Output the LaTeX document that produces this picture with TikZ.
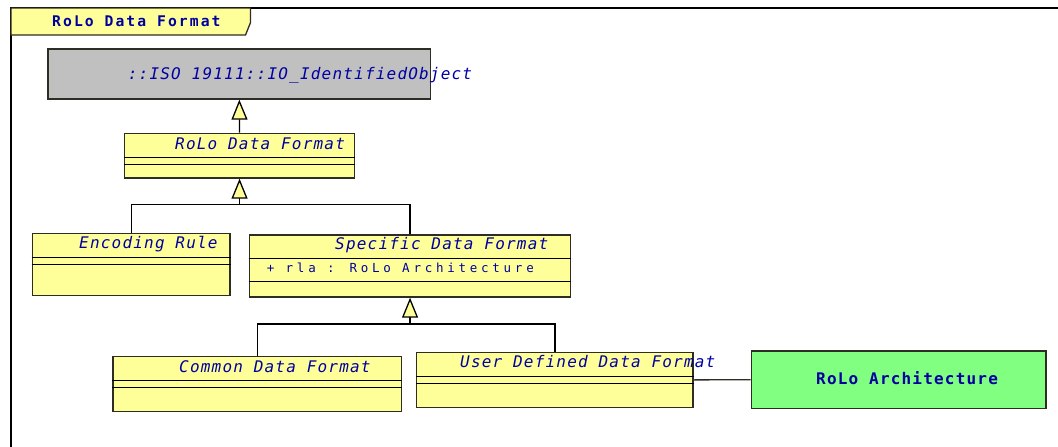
\documentclass[tikz,border=0pt]{standalone}
\usepackage{fontspec}
\usetikzlibrary{arrows.meta}
\newfontfamily\clsfont[LetterSpace=7.5]{DejaVu Sans Mono}
\newfontfamily\tabfont[LetterSpace=14]{DejaVu Sans Mono}
\newfontfamily\attrfont[LetterSpace=30]{DejaVu Sans Mono}
\definecolor{umlyellow}{HTML}{FFFF99}
\definecolor{umlgreen}{HTML}{80FF80}
\definecolor{umlgray}{HTML}{C0C0C0}
\definecolor{umlblue}{RGB}{0,0,160}
\definecolor{umlline}{RGB}{45,45,35}
\tikzset{
  classbox/.style={draw=umlline, line width=1.4pt, fill=umlyellow, rectangle, inner sep=0pt, anchor=north west},
  graybox/.style={classbox, fill=umlgray},
  greenbox/.style={classbox, fill=umlgreen},
  clsname/.style={anchor=base west, inner sep=0pt, text=umlblue, font=\clsfont\itshape\fontsize{16}{18}\selectfont},
  attrtext/.style={anchor=base west, inner sep=0pt, text=umlblue, font=\attrfont\fontsize{12.5}{14}\selectfont},
  tabtext/.style={anchor=base west, inner sep=0pt, text=umlblue, font=\tabfont\bfseries\fontsize{14.7}{16}\selectfont},
  archtext/.style={anchor=base west, inner sep=0pt, text=umlblue, font=\clsfont\bfseries\fontsize{16}{18}\selectfont},
  conn/.style={draw=black, line width=1.3pt},
  gen/.style={conn, -{Triangle[length=20pt, width=16pt, fill=umlyellow]}},
  compline/.style={draw=black, line width=1.3pt}
}
\begin{document}
\begin{tikzpicture}[x=1pt, y=-1pt]
\useasboundingbox (0,0) rectangle (1058,447);
% frame
\draw[line width=1.5pt] (11,447) -- (11,8) -- (1058,8);
\draw[line width=1.3pt, draw=umlline, fill=umlyellow] (11,8) -- (250.5,8) -- (250.5,22.5) -- (245.5,35) -- (11,35) -- cycle;
\node[tabtext] (tabt) at (52,26.7) {RoLo Data Format};

% boxes
\node[graybox, minimum width=382.7pt, minimum height=50pt] (gray) at (47.3,48.3) {};
\node[classbox, minimum width=230.3pt, minimum height=44.6pt] (rdf) at (123.7,132.7) {};
\node[classbox, minimum width=197.6pt, minimum height=62pt] (enc) at (31.7,233) {};
\node[classbox, minimum width=321.3pt, minimum height=62pt] (sdf) at (248.7,234.3) {};
\node[classbox, minimum width=288.4pt, minimum height=54.7pt] (cdf) at (112.3,356) {};
\node[classbox, minimum width=276.3pt, minimum height=55pt] (udf) at (416,351.7) {};
\node[greenbox, minimum width=294.6pt, minimum height=57.4pt] (arch) at (750.7,350.3) {};

% compartment lines
\draw[compline] (rdf.west |- 0,157.3) -- (rdf.east |- 0,157.3);
\draw[compline] (rdf.west |- 0,164.3) -- (rdf.east |- 0,164.3);
\draw[compline] (enc.west |- 0,257.3) -- (enc.east |- 0,257.3);
\draw[compline] (enc.west |- 0,264.3) -- (enc.east |- 0,264.3);
\draw[compline] (sdf.west |- 0,258.7) -- (sdf.east |- 0,258.7);
\draw[compline] (sdf.west |- 0,281.7) -- (sdf.east |- 0,281.7);
\draw[compline] (cdf.west |- 0,380.7) -- (cdf.east |- 0,380.7);
\draw[compline] (cdf.west |- 0,387.7) -- (cdf.east |- 0,387.7);
\draw[compline] (udf.west |- 0,376.3) -- (udf.east |- 0,376.3);
\draw[compline] (udf.west |- 0,383.3) -- (udf.east |- 0,383.3);

% connectors
\coordinate (j1) at (rdf.south |- 0,204.3);
\coordinate (j2) at (sdf.south |- 0,324);
\draw[gen] (rdf.north) -- (gray.south);
\draw[conn] (enc.north) |- (j1);
\draw[conn] (sdf.north) |- (j1);
\draw[gen] (j1) -- (rdf.south);
\draw[conn] (cdf.north) |- (j2);
\draw[conn] (udf.north) |- (j2);
\draw[gen] (j2) -- (sdf.south);
\draw[conn, draw=umlline] (udf.east) -- (arch.west);

% texts
\node[clsname] (grayt) at (127.7,79.3) {::ISO 19111::IO\_IdentifiedObject};
\node[clsname] (rdft) at (175,149.3) {RoLo Data Format};
\node[clsname] (enct) at (79,248.3) {Encoding Rule};
\node[clsname] (sdft) at (335,249.7) {Specific Data Format};
\node[attrtext] (sdfa) at (266.7,272.7) {+ rla : RoLo Architecture};
\node[clsname] (cdft) at (179,372) {Common Data Format};
\node[clsname] (udft) at (460,367.7) {User Defined Data Format};
\node[archtext] (archt) at (816,384) {RoLo Architecture};
\end{tikzpicture}
\end{document}
